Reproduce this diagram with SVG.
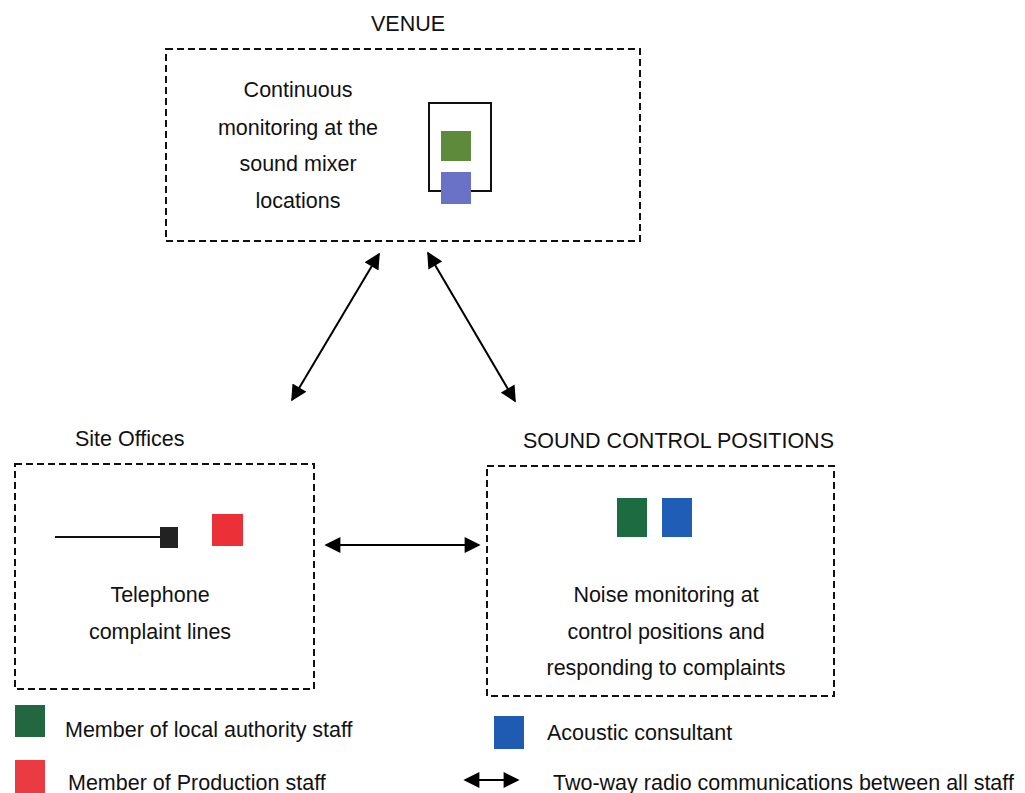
<svg xmlns="http://www.w3.org/2000/svg" width="1025" height="793" viewBox="0 0 1025 793">
<defs>
<marker id="ah" viewBox="0 0 10 10" refX="9" refY="5" markerWidth="9" markerHeight="8" markerUnits="strokeWidth" orient="auto-start-reverse">
<path d="M0,0 L10,5 L0,10 Z" fill="#000"/>
</marker>
</defs>
<style>
.box{fill:none;stroke:#111;stroke-width:2;stroke-dasharray:7,4}
.t{font-family:"Liberation Sans",Arial,sans-serif;font-size:21.5px;fill:#111}
.c{text-anchor:middle}
.conn{stroke:#000;stroke-width:2;fill:none;marker-start:url(#ah);marker-end:url(#ah)}
</style>
<rect width="1025" height="793" fill="#fff"/>
<g id="venue">
<text class="t c" x="408" y="31">VENUE</text>
<rect class="box" x="166" y="49" width="474" height="192"/>
<text class="t c" x="298" y="97">Continuous</text>
<text class="t c" x="298" y="135">monitoring at the</text>
<text class="t c" x="298" y="171">sound mixer</text>
<text class="t c" x="298" y="208">locations</text>
<rect x="429" y="103" width="62" height="88" fill="none" stroke="#111" stroke-width="2"/>
<rect x="441" y="131" width="30" height="30" fill="#5e8a3c"/>
<rect x="441" y="172" width="30" height="32" fill="#6a72c8"/>
</g>
<g id="site-offices">
<text class="t" x="75" y="446">Site Offices</text>
<rect class="box" x="15" y="464" width="299" height="225"/>
<line x1="55" y1="537" x2="162" y2="537" stroke="#111" stroke-width="2"/>
<rect x="160" y="527" width="18" height="21" fill="#222"/>
<rect x="212" y="514" width="31" height="32" fill="#ec3038"/>
<text class="t c" x="160" y="602">Telephone</text>
<text class="t c" x="160" y="639">complaint lines</text>
</g>
<g id="sound-control">
<text class="t" x="523" y="448">SOUND CONTROL POSITIONS</text>
<rect class="box" x="487" y="466" width="347" height="230"/>
<rect x="617" y="498" width="30" height="39" fill="#1d6b40"/>
<rect x="662" y="498" width="30" height="39" fill="#1f5db7"/>
<text class="t c" x="666" y="602">Noise monitoring at</text>
<text class="t c" x="666" y="639">control positions and</text>
<text class="t c" x="666" y="675">responding to complaints</text>
</g>
<g id="connectors">
<line class="conn" x1="379" y1="254" x2="292" y2="400"/>
<line class="conn" x1="428" y1="253" x2="515" y2="401"/>
<line class="conn" x1="326" y1="545" x2="479" y2="545"/>
</g>
<g id="legend">
<rect x="15" y="705" width="30" height="32" fill="#22673f"/>
<text class="t" x="65" y="737">Member of local authority staff</text>
<rect x="15" y="760" width="30" height="33" fill="#ea3a42"/>
<text class="t" x="68" y="790">Member of Production staff</text>
<rect x="494" y="716" width="30" height="33" fill="#1f5bb3"/>
<text class="t" x="547" y="740">Acoustic consultant</text>
<line class="conn" x1="465" y1="780" x2="518" y2="780" stroke-width="2.5"/>
<text class="t" x="553" y="790">Two-way radio communications between all staff</text>
</g>
</svg>
